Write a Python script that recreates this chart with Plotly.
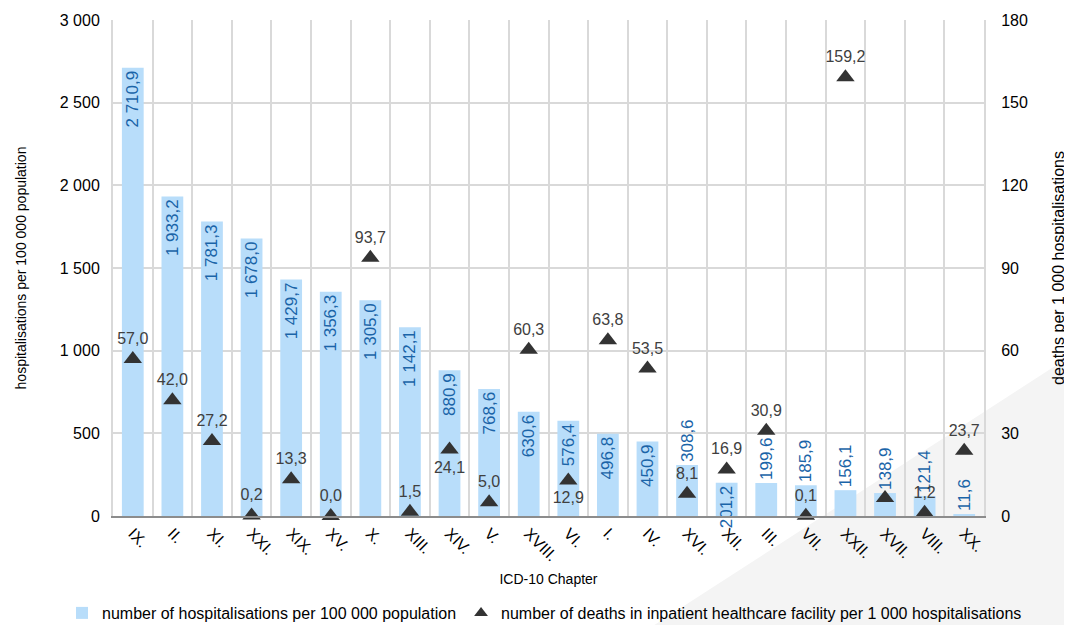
import plotly.graph_objects as go

chapters = ["IX.", "II.", "XI.", "XXI.", "XIX.", "XV.", "X.", "XIII.", "XIV.", "V.", "XVIII.",
            "VI.", "I.", "IV.", "XVI.", "XII.", "III.", "VII.", "XXII.", "XVII.", "VIII.", "XX."]
hosp = [2710.9, 1933.2, 1781.3, 1678.0, 1429.7, 1356.3, 1305.0, 1142.1, 880.9, 768.6, 630.6,
        576.4, 496.8, 450.9, 308.6, 201.2, 199.6, 185.9, 156.1, 138.9, 121.4, 11.6]
deaths = [57.0, 42.0, 27.2, 0.2, 13.3, 0.0, 93.7, 1.5, 24.1, 5.0, 60.3,
          12.9, 63.8, 53.5, 8.1, 16.9, 30.9, 0.1, 159.2, 6.5, 1.2, 23.7]
death_label_shown = [True] * 19 + [False] + [True] * 2
death_label_pos = ["top center"] * 8 + ["bottom center", "top center", "top center",
                   "bottom center"] + ["top center"] * 10


def fmt(v):
    s = f"{v:,.1f}".replace(",", " ").replace(".", ",")
    return s


bar_text = [fmt(v) for v in hosp]
bar_pos = ["inside" if v >= 200 else "outside" for v in hosp]
bar_pos[14] = "outside"  # 308,6 sits above its bar
death_text = [fmt(v) if show else "" for v, show in zip(deaths, death_label_shown)]

FONT = "Liberation Sans, Arial, sans-serif"

fig = go.Figure()
fig.add_trace(go.Bar(
    x=chapters, y=hosp, name="number of hospitalisations per 100 000 population",
    marker=dict(color="#b8ddfa", line=dict(width=0)), width=0.55,
    text=bar_text, textposition=bar_pos, textangle=-90, insidetextanchor="end",
    constraintext="none", cliponaxis=False,
    textfont=dict(color="#1a64a8", size=17, family=FONT),
))
fig.add_trace(go.Scatter(
    x=chapters, y=deaths, yaxis="y2", mode="markers+text",
    name="number of deaths in inpatient healthcare facility per 1 000 hospitalisations",
    marker=dict(symbol="triangle-up", size=16, color="#333333"),
    text=death_text, textposition=death_label_pos, cliponaxis=False,
    textfont=dict(color="#404040", size=16, family=FONT),
))

# page offset of the plot div is 8 px; figure coordinates below are figure-relative
W, H = 1064, 617
x0 = 105; x1 = 976; y0 = 12; y1 = 508
def px(x): return (x - 8 - x0) / (x1 - x0)
def py(y): return (y1 - (y - 8)) / (y1 - y0)

fig.add_shape(type="path", xref="paper", yref="paper", layer="below",
              path=f"M {px(642)} {py(633)} L {px(1080)} {py(350)} L {px(1080)} {py(633)} Z",
              fillcolor="#f4f4f4", line=dict(width=0))

fig.update_layout(
    width=W, height=H,
    margin=dict(l=x0, r=W - x1, t=y0, b=H - y1, autoexpand=False),
    paper_bgcolor="white", plot_bgcolor="rgba(0,0,0,0)",
    separators=", ",
    font=dict(family=FONT, size=16, color="#000000"),
    showlegend=True,
    legend=dict(orientation="h", x=px(62), xanchor="left", y=py(613), yanchor="middle",
                font=dict(size=16, color="#000000"), itemwidth=30, tracegroupgap=0,
                itemsizing="constant", bgcolor="rgba(0,0,0,0)"),
    xaxis=dict(
        type="category", range=[-0.5, len(chapters) - 0.5],
        tickson="boundaries", showgrid=True, gridcolor="#d9d9d9", gridwidth=2,
        tickangle=45, ticks="", showline=True, linecolor="#8c8c8c", linewidth=2,
        automargin=False,
        title=dict(text="ICD-10 Chapter", font=dict(size=14), standoff=11),
        tickfont=dict(size=16),
    ),
    yaxis=dict(
        range=[0, 3000], dtick=500, tickformat=",d", showgrid=True, gridcolor="#d9d9d9",
        gridwidth=2, zeroline=False, showline=True, linecolor="#d9d9d9", linewidth=2,
        ticks="", tickfont=dict(size=16), automargin=False, ticklabelstandoff=8,
        title=dict(text="hospitalisations per 100 000 population", font=dict(size=14), standoff=30),
    ),
    yaxis2=dict(
        range=[0, 180], dtick=30, overlaying="y", side="right", showgrid=False, zeroline=False,
        showline=True, linecolor="#d9d9d9", linewidth=2, ticks="", tickfont=dict(size=16),
        automargin=False, ticklabelstandoff=12,
        title=dict(text="deaths per 1 000 hospitalisations", font=dict(size=16), standoff=26),
    ),
)

fig.write_html("out.html")
